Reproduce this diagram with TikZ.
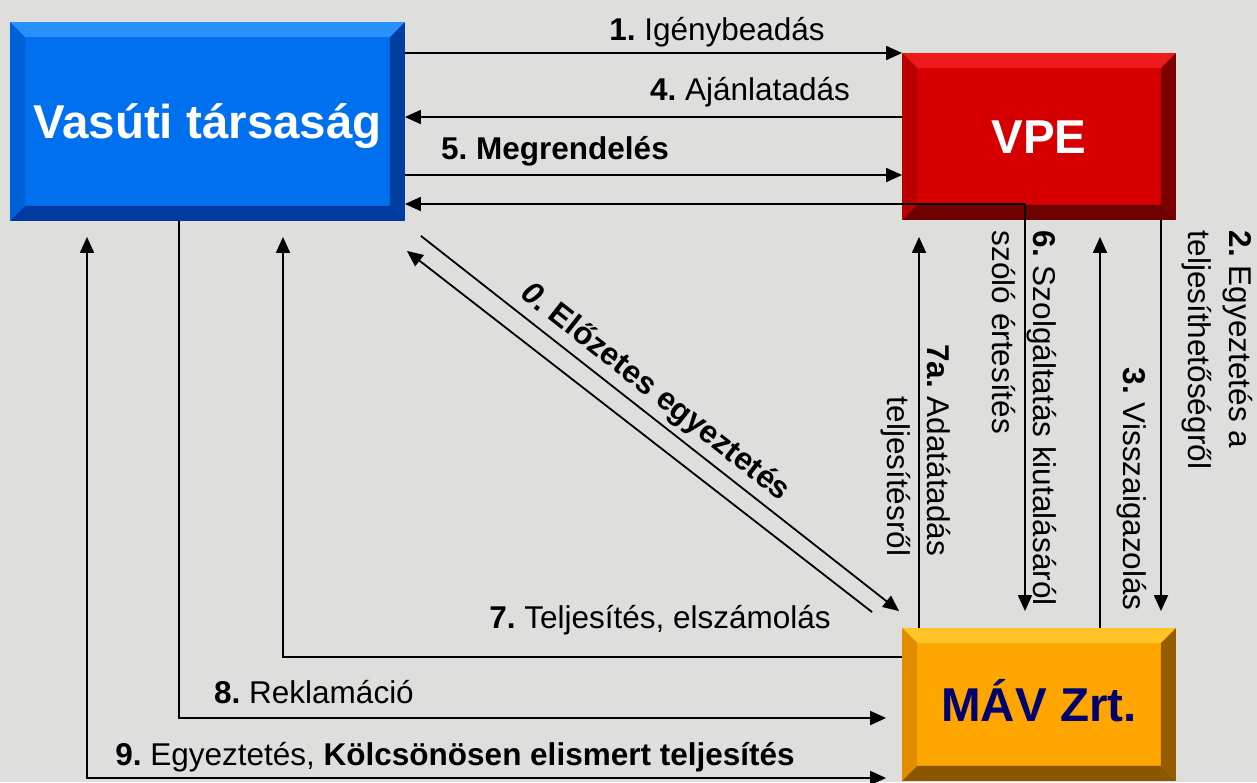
\documentclass[tikz,border=0pt]{standalone}
\usepackage{fontspec}
\setmainfont{Liberation Sans}
\usetikzlibrary{arrows.meta,calc}

\definecolor{bg}{RGB}{222,222,220}
\definecolor{bluef}{RGB}{0,112,238}
\definecolor{bluet}{RGB}{40,145,255}
\definecolor{bluel}{RGB}{0,96,215}
\definecolor{bluer}{RGB}{0,62,160}
\definecolor{blueb}{RGB}{0,58,160}
\definecolor{redf}{RGB}{214,0,0}
\definecolor{redt}{RGB}{238,25,25}
\definecolor{redl}{RGB}{185,0,0}
\definecolor{redr}{RGB}{125,0,0}
\definecolor{redb}{RGB}{110,0,0}
\definecolor{orf}{RGB}{255,165,0}
\definecolor{ort}{RGB}{255,196,40}
\definecolor{orl}{RGB}{228,140,0}
\definecolor{orr}{RGB}{150,92,0}
\definecolor{orb}{RGB}{140,85,0}
\definecolor{mavtext}{RGB}{0,0,110}

\newcommand{\bevelbox}[5]{%
  \fill[#2] (#1.north west) -- (#1.north east) -- ($(#1.north east)+(-15,15)$) -- ($(#1.north west)+(15,15)$) -- cycle;
  \fill[#3] (#1.north west) -- (#1.south west) -- ($(#1.south west)+(15,-15)$) -- ($(#1.north west)+(15,15)$) -- cycle;
  \fill[#4] (#1.north east) -- (#1.south east) -- ($(#1.south east)+(-15,-15)$) -- ($(#1.north east)+(-15,15)$) -- cycle;
  \fill[#5] (#1.south west) -- (#1.south east) -- ($(#1.south east)+(-15,-15)$) -- ($(#1.south west)+(15,-15)$) -- cycle;
}

\begin{document}
\frenchspacing
\begin{tikzpicture}[x=1pt,y=-1pt,
  line width=1.8pt,
  >={Triangle[length=16pt,width=14pt]},
  box/.style={rectangle, inner sep=0pt, font=\fontsize{47.5}{56}\selectfont\bfseries, text height=34pt, text depth=0pt},
  lbl/.style={font=\fontsize{31.5}{41}\selectfont\frenchspacing, inner sep=0pt},
  vlbl/.style={lbl, rotate=-90}
]
\fill[bg] (0,0) rectangle (1257,782);
\useasboundingbox (0,0) rectangle (1257,782);

% boxes
\node[box, fill=bluef, minimum width=393pt, minimum height=197pt, text=white] (vt) at (207.5,121.5) {Vasúti társaság};
\bevelbox{vt}{bluet}{bluel}{bluer}{blueb}
\node[box, fill=redf, minimum width=272pt, minimum height=165pt, text=white] (vpe) at (1039,136.5) {VPE};
\bevelbox{vpe}{redt}{redl}{redr}{redb}
\node[box, fill=orf, minimum width=272pt, minimum height=151pt, text=mavtext] (mav) at (1039,704.5) {MÁV Zrt.};
\bevelbox{mav}{ort}{orl}{orr}{orb}

% coordinates of free ends
\coordinate (t6) at ($(mav.north -| 1025,0)+(0,-17)$);
\coordinate (t2) at ($(mav.north -| 1161,0)+(0,-17)$);
\coordinate (t3) at ($(vpe.south -| 1100,0)+(0,17)$);
\coordinate (t7a) at ($(vpe.south -| 919,0)+(0,17)$);
\coordinate (t7) at ($(vt.south -| 283,0)+(0,16)$);
\coordinate (t9) at ($(vt.south -| 87,0)+(0,16)$);
\coordinate (t8) at ($(mav.west |- 0,718)+(-16,0)$);
\coordinate (t9b) at ($(mav.west |- 0,778)+(-16,0)$);
\coordinate (d1s) at ($(vt.south east)+(16,15)$);
\coordinate (d1e) at ($(mav.north west)+(-3,-17)$);
\coordinate (d2s) at ($(mav.north west)+(-30,-16)$);
\coordinate (d2e) at ($(vt.south east)+(2,30)$);

% horizontal connectors
\draw[->] (vt.east |- 0,53) -- (vpe.west |- 0,53);
\draw[->] (vpe.west |- 0,117) -- (vt.east |- 0,117);
\draw[->] (vt.east |- 0,175) -- (vpe.west |- 0,175);
\draw[<->] (vt.east |- 0,204) -| (t6);

% vertical connectors
\draw[->] (vpe.south -| 1161,0) -- (t2);
\draw[->] (mav.north -| 1100,0) -- (t3);
\draw[->] (mav.north -| 919,0) -- (t7a);

% diagonals
\draw[->] (d1s) -- (d1e);
\draw[->] (d2s) -- (d2e);

% lower connectors
\draw[->] (mav.west |- 0,657) -| (t7);
\draw[->] (vt.south -| 179,0) |- (t8);
\draw[<->] (t9) |- (t9b);

% labels
\node[lbl, anchor=base] (l1) at (717,40) {\textbf{1.} Igénybeadás};
\node[lbl, anchor=base] (l4) at (750,100) {\textbf{4.} Ajánlatadás};
\node[lbl, anchor=base] (l5) at (555,159) {\textbf{5. Megrendelés}};
\node[lbl, anchor=base] (l7) at (660,628) {\textbf{7.} Teljesítés, elszámolás};
\node[lbl, anchor=base] (l8) at (314,703) {\textbf{8.} Reklamáció};
\node[lbl, anchor=base] (l9) at (455,765) {\textbf{9.} Egyeztetés, \textbf{Kölcsönösen elismert teljesítés}};
\node[lbl, anchor=base, rotate=-38.15] (l0) at (650,399) {\textbf{\itshape 0}\textbf{. Előzetes egyeztetés}};

\node[vlbl, anchor=base west] (l2a) at (1229,230) {\textbf{2.} Egyeztetés a};
\node[vlbl, anchor=base west] (l2b) at (1188,230) {teljesíthetőségről};
\node[vlbl, anchor=base west] (l3) at (1123,367) {\textbf{3.} Visszaigazolás};
\node[vlbl, anchor=base west] (l6a) at (1033,230) {\textbf{6.} Szolgáltatás kiutalásáról};
\node[vlbl, anchor=base west] (l6b) at (992,230) {szóló értesítés};
\node[vlbl, anchor=base east] (l7aa) at (927,557) {\textbf{7a.} Adatátadás};
\node[vlbl, anchor=base east] (l7ab) at (887,557) {teljesítésről};
\end{tikzpicture}
\end{document}
